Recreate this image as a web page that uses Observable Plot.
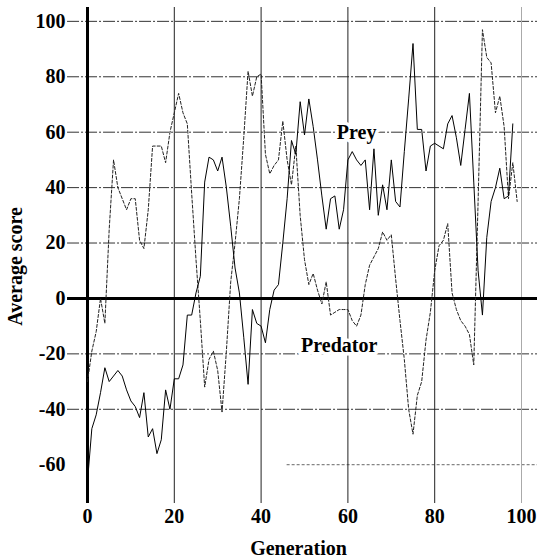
<!DOCTYPE html>
<html>
<head>
<meta charset="utf-8">
<script src="https://cdn.jsdelivr.net/npm/d3@7"></script>
<script src="https://cdn.jsdelivr.net/npm/@observablehq/plot@0.6"></script>
<style>
  html, body { margin: 0; padding: 0; background: white; }
</style>
</head>
<body>
<div id="chart"></div>
<script>
// Solid line (Prey), generations 0..98
const prey = [
  -66, -47, -42, -34, -25, -30, -28, -26, -28, -33,
  -37, -39, -43, -34, -50, -47, -56, -51, -33, -40,
  -29, -29, -24, -6, -6, 2, 8, 42, 51, 50,
  46, 51, 40, 26, 11, 2, -14, -31, -4, -9,
  -10, -16, -4, 3, 5, 20, 36, 57, 52, 71,
  59, 72, 62, 50, 37, 25, 36, 37, 25, 32,
  50, 53, 50, 48, 50, 32, 54, 30, 41, 32,
  50, 35, 33, 53, 72, 92, 61, 61, 46, 55,
  56, 55, 54, 63, 66, 58, 48, 61, 74, 42,
  10, -6, 22, 35, 40, 47, 36, 37, 63
];
// Dashed line (Predator), generations 0..99
const predator = [
  -30, -19, -12, 0, -9, 25, 50, 40, 36, 32,
  36, 36, 21, 18, 32, 55, 55, 55, 49, 60,
  67, 74, 67, 63, 38, 14, -8, -32, -22, -19,
  -26, -41, -19, 6, 20, 36, 58, 82, 73, 80,
  81, 52, 45, 48, 50, 64, 50, 41, 55, 30,
  14, 5, 9, 3, -2, 6, -6, -5, -4, -4,
  -4, -8, -10, -6, 5, 12, 15, 18, 24, 21,
  23, 7, -8, -22, -40, -49, -35, -30, -15, -5,
  10, 19, 21, 27, 2, -4, -8, -10, -13, -24,
  35, 97, 87, 85, 67, 73, 62, 36, 49, 35
];
const xTicks = [0, 20, 40, 60, 80, 100];
const yTicks = [-60, -40, -20, 0, 20, 40, 60, 80, 100];
const gridY = [100, 80, 60, 40, 20, -20, -40];
const gridYFaint = [-60];
const gridX = [20, 40, 60, 80];
const gridXFaint = [100];
const seriesLabels = [
  {x: 62, y: 60, text: "Prey"},
  {x: 58, y: -17, text: "Predator"}
];
const xTitle = "Generation";
const yTitle = "Average score";

const xDomain = [0, 100];
const yDomain = [-74, 105];
const ruleLeft = -4.6, ruleRight = 103.7, faintStart = 46;

const chart = Plot.plot({
  width: 537,
  height: 559,
  marginLeft: 87,
  marginRight: 16,
  marginTop: 7,
  marginBottom: 56,
  style: {
    fontFamily: "'Liberation Serif', 'Times New Roman', serif",
    fontSize: "20px",
    fontWeight: "bold",
    background: "white",
    color: "black"
  },
  x: {domain: xDomain, ticks: xTicks, tickSize: 0, tickPadding: 5, label: null, tickFormat: d => String(d)},
  y: {domain: yDomain, ticks: yTicks, tickSize: 0, tickPadding: 22, label: null, tickFormat: d => String(d)},
  marks: [
    Plot.ruleY(gridY, {x1: ruleLeft, x2: ruleRight, stroke: "#333", strokeWidth: 1, strokeDasharray: "12,2,2,2"}),
    Plot.ruleY(gridYFaint, {x1: faintStart, x2: ruleRight, stroke: "#666", strokeWidth: 1, strokeDasharray: "3,2"}),
    Plot.ruleX(gridX, {stroke: "#222", strokeWidth: 1}),
    Plot.ruleX(gridXFaint, {stroke: "#aaa", strokeWidth: 1}),
    Plot.ruleY([0], {x1: ruleLeft, x2: ruleRight, stroke: "#000", strokeWidth: 3}),
    Plot.ruleX([0], {stroke: "#000", strokeWidth: 3}),
    Plot.line(predator, {x: (d, i) => i, y: d => d, stroke: "#222", strokeWidth: 1, strokeDasharray: "3,2"}),
    Plot.line(prey, {x: (d, i) => i, y: d => d, stroke: "#000", strokeWidth: 1}),
    Plot.text(seriesLabels, {x: "x", y: "y", text: "text", fontSize: 20, fontWeight: "bold",
      fill: "black", stroke: "white", strokeWidth: 7, paintOrder: "stroke"}),
    Plot.text([xTitle], {text: d => d, frameAnchor: "bottom", lineAnchor: "middle", textAnchor: "middle",
      dx: -6, dy: 44.6, fontSize: 20, fontWeight: "bold"}),
    Plot.text([yTitle], {text: d => d, frameAnchor: "left", rotate: -90, lineAnchor: "middle", textAnchor: "middle",
      dx: -72.4, dy: 11, fontSize: 20, fontWeight: "bold"})
  ]
});
document.getElementById("chart").appendChild(chart);
</script>
</body>
</html>
